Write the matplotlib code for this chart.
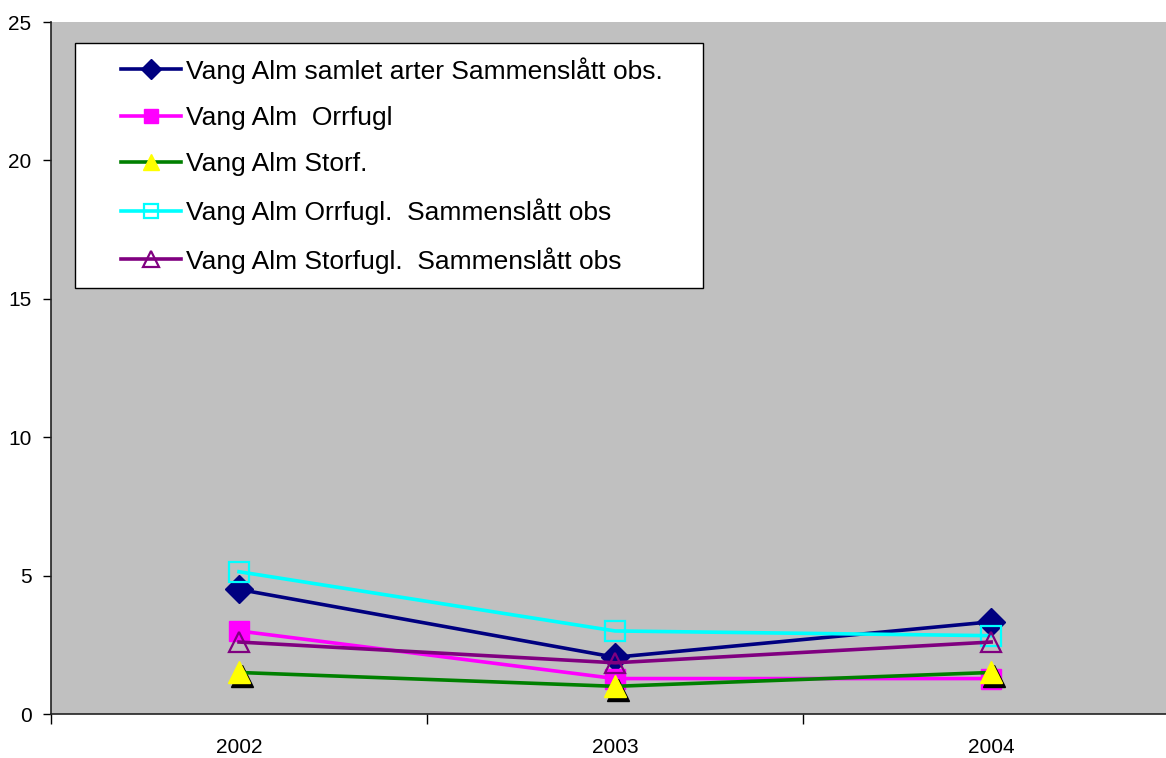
import matplotlib
matplotlib.use("Agg")
import matplotlib.pyplot as plt
from matplotlib.patches import Rectangle
from matplotlib.transforms import offset_copy

plt.rcParams['font.family'] = ['Liberation Sans', 'DejaVu Sans']

years = ['2002', '2003', '2004']
samlet = [4.5, 2.05, 3.33]
orrfugl = [3.0, 1.28, 1.28]
storf = [1.5, 1.0, 1.5]
orrfugl_samm = [5.14, 3.0, 2.83]
storfugl_samm = [2.6, 1.85, 2.6]

labels = ['Vang Alm samlet arter Sammenslått obs.',
          'Vang Alm  Orrfugl',
          'Vang Alm Storf.',
          'Vang Alm Orrfugl.  Sammenslått obs',
          'Vang Alm Storfugl.  Sammenslått obs']

W, H = 1166, 758
fig = plt.figure(figsize=(W / 100, H / 100), dpi=100)
ax = fig.add_axes([51 / W, 44 / H, (W - 51) / W, 692 / H])
ax.set_facecolor('#c0c0c0')

x = range(len(years))
lw = 2.6

ax.plot(x, samlet, color='#000080', lw=lw, marker='D', ms=14,
        mfc='#000080', mec='#000080', label=labels[0])
ax.plot(x, orrfugl, color='#ff00ff', lw=lw, marker='s', ms=14,
        mfc='#ff00ff', mec='#ff00ff', label=labels[1])
# black drop shadow behind the yellow triangles
shadow = offset_copy(ax.transData, fig=fig, x=3, y=-4, units='dots')
ax.plot(x, storf, ls='none', marker='^', ms=16, mfc='black', mec='black',
        transform=shadow)
ax.plot(x, storf, color='#008000', lw=lw, marker='^', ms=16,
        mfc='#ffff00', mec='#ffff00', label=labels[2])
ax.plot(x, orrfugl_samm, color='#00ffff', lw=lw, marker='s', ms=14,
        mfc='none', mec='#00ffff', mew=1.6, label=labels[3])
ax.plot(x, storfugl_samm, color='#800080', lw=lw, marker='^', ms=15,
        mfc='none', mec='#800080', mew=1.6, label=labels[4])

ax.set_yticks(range(0, 26, 5))
ax.set_xticks([-0.5, 0.5, 1.5, 2.5])
ax.set_xticklabels([])
ax.set_xticks(list(x), minor=True)
ax.set_xticklabels(years, minor=True)
ax.set_ylim(0, 25)
ax.set_xlim(-0.5, 2.465)
ax.tick_params(axis='x', which='major', length=7, width=1, direction='out')
ax.tick_params(axis='x', which='minor', length=0, pad=17, labelsize=15)
ax.tick_params(axis='y', length=6, width=1, pad=8, labelsize=15)

for side in ['top', 'right']:
    ax.spines[side].set_visible(False)
for side in ['left', 'bottom']:
    ax.spines[side].set_color('#222222')
    ax.spines[side].set_linewidth(1.2)

# legend frame
frame = Rectangle((75 / W, 1 - 288 / H), 628 / W, 245 / H,
                  transform=fig.transFigure, facecolor='white',
                  edgecolor='black', lw=1, zorder=5, clip_on=False)
ax.add_patch(frame)
leg = ax.legend(loc='upper left', bbox_to_anchor=(121 / W, 1 - 57 / H),
                bbox_transform=fig.transFigure, frameon=False, fontsize=19,
                borderpad=0, borderaxespad=0, handlelength=2.27,
                handletextpad=0.2, labelspacing=0.84, markerscale=0.75)
leg.set_zorder(6)

fig.savefig('out.png', dpi=100)
